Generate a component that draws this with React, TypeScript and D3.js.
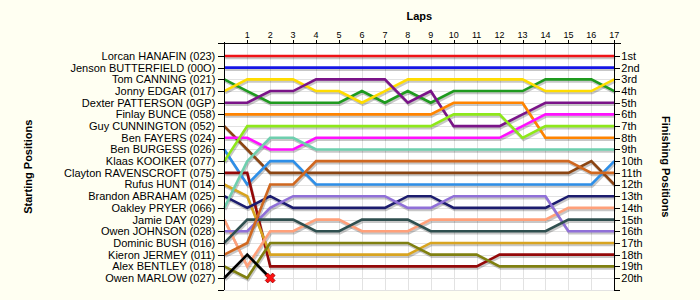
import React from "react";
import * as d3 from "d3";

const drivers = [
  "Lorcan HANAFIN (023)",
  "Jenson BUTTERFIELD (00O)",
  "Tom CANNING (021)",
  "Jonny EDGAR (017)",
  "Dexter PATTERSON (0GP)",
  "Finlay BUNCE (058)",
  "Guy CUNNINGTON (052)",
  "Ben FAYERS (024)",
  "Ben BURGESS (026)",
  "Klaas KOOIKER (077)",
  "Clayton RAVENSCROFT (075)",
  "Rufus HUNT (014)",
  "Brandon ABRAHAM (025)",
  "Oakley PRYER (066)",
  "Jamie DAY (029)",
  "Owen JOHNSON (028)",
  "Dominic BUSH (016)",
  "Kieron JERMEY (011)",
  "Alex BENTLEY (018)",
  "Owen MARLOW (027)",
];

const colors = [
  "#f01418", "#1414e6", "#1f9a1f", "#ffdc00", "#7a1488", "#ff8400",
  "#8b4513", "#ff10ff", "#2e8fe8", "#8ee81a", "#940808", "#d8a420",
  "#1c1c6e", "#6ecfae", "#ffa07a", "#9070d8", "#2f4f4f", "#d06820",
  "#808010", "#000000",
];

// positions per lap (lap 0 = start)
const positions: number[][] = [
  [1, 1, 1, 1, 1, 1, 1, 1, 1, 1, 1, 1, 1, 1, 1, 1, 1, 1],
  [2, 2, 2, 2, 2, 2, 2, 2, 2, 2, 2, 2, 2, 2, 2, 2, 2, 2],
  [3, 4, 5, 5, 5, 5, 4, 5, 4, 5, 4, 4, 4, 4, 3, 3, 3, 4],
  [4, 3, 3, 3, 4, 4, 5, 4, 3, 3, 3, 3, 3, 3, 4, 4, 4, 3],
  [5, 5, 4, 4, 3, 3, 3, 3, 5, 4, 7, 7, 7, 6, 5, 5, 5, 5],
  [6, 6, 6, 6, 6, 6, 6, 6, 6, 6, 5, 5, 5, 5, 8, 8, 8, 8],
  [7, 9, 11, 11, 11, 11, 11, 11, 11, 11, 11, 11, 11, 11, 11, 11, 10, 12],
  [8, 8, 9, 9, 8, 8, 8, 8, 8, 8, 8, 8, 8, 7, 6, 6, 6, 6],
  [9, 12, 10, 10, 12, 12, 12, 12, 12, 12, 12, 12, 12, 12, 12, 12, 12, 10],
  [10, 7, 7, 7, 7, 7, 7, 7, 7, 7, 6, 6, 6, 8, 7, 7, 7, 7],
  [11, 11, 19, 19, 19, 19, 19, 19, 19, 19, 19, 19, 18, 18, 18, 18, 18, 18],
  [12, 13, 18, 18, 18, 18, 18, 18, 18, 17, 17, 17, 17, 17, 17, 17, 17, 17],
  [13, 14, 13, 14, 14, 14, 14, 14, 13, 13, 14, 14, 14, 14, 14, 13, 13, 13],
  [14, 10, 8, 8, 9, 9, 9, 9, 9, 9, 9, 9, 9, 9, 9, 9, 9, 9],
  [15, 19, 16, 16, 15, 15, 16, 16, 16, 15, 15, 15, 15, 15, 15, 14, 14, 14],
  [16, 16, 14, 13, 13, 13, 13, 13, 14, 14, 13, 13, 13, 13, 13, 16, 16, 16],
  [17, 15, 15, 15, 16, 16, 15, 15, 15, 16, 16, 16, 16, 16, 16, 15, 15, 15],
  [18, 17, 12, 12, 10, 10, 10, 10, 10, 10, 10, 10, 10, 10, 10, 10, 11, 11],
  [19, 20, 17, 17, 17, 17, 17, 17, 17, 18, 18, 18, 19, 19, 19, 19, 19, 19],
  [20, 18, 20],
];

const retired = [{ driver: 19, lap: 2 }];

const lapTicks = d3.range(1, 18);
const finishLabels = [
  "1st", "2nd", "3rd", "4th", "5th", "6th", "7th", "8th", "9th", "10th",
  "11th", "12th", "13th", "14th", "15th", "16th", "17th", "18th", "19th", "20th",
];

const W = 700, H = 300;
const left = 224.3, right = 614.3, top = 43.5, bottom = 290;
const font = "'Liberation Sans', Arial, sans-serif";

export default function App() {
  const x = d3.scaleLinear().domain([0, 17]).range([left, right]);
  const y = d3.scaleLinear().domain([0, 21]).range([44.3, 289.7]);
  const line = d3
    .line<number>()
    .x((_, i) => x(i))
    .y((d) => y(d));
  const posTicks = d3.range(1, 21);
  const cross = d3.symbol(d3.symbolCross, 60)();

  return (
    <svg width={W} height={H} style={{ position: "absolute", left: 0, top: 0 }}>
      <rect x={0} y={0} width={W} height={H} fill="#fffff2" />
      <rect x={left} y={top} width={right - left} height={bottom - top} fill="#ffffff" />
      {/* grid */}
      <g stroke="#e2e2e2" strokeWidth={1}>
        {posTicks.map((p) => (
          <line key={"h" + p} x1={left} x2={right} y1={Math.round(y(p)) + 0.5} y2={Math.round(y(p)) + 0.5} />
        ))}
        <line x1={left} x2={right} y1={bottom + 0.5} y2={bottom + 0.5} />
        {lapTicks.map((l) => (
          <line key={"v" + l} y1={top} y2={bottom} x1={Math.round(x(l)) + 0.5} x2={Math.round(x(l)) + 0.5} />
        ))}
      </g>
      {/* shadows */}
      <g fill="none" stroke="#000" strokeOpacity={0.22} strokeWidth={2.6}>
        {positions.map((ps, i) => (
          <path key={"s" + i} d={line(ps) || ""} transform="translate(1,2)" />
        ))}
      </g>
      {/* lines */}
      <g fill="none" strokeWidth={2.6}>
        {positions.map((ps, i) => (
          <path key={"l" + i} d={line(ps) || ""} stroke={colors[i]} />
        ))}
      </g>
      {/* retired markers */}
      {retired.map((r, i) => (
        <path
          key={"x" + i}
          d={cross || ""}
          transform={`translate(${x(r.lap)},${y(positions[r.driver][r.lap])}) rotate(45)`}
          fill="#ff1010"
          stroke="#a00000"
          strokeWidth={0.8}
        />
      ))}
      {/* axes */}
      <g stroke="#000" strokeWidth={1} shapeRendering="crispEdges">
        <line x1={left - 6} x2={right + 7} y1={top} y2={top} />
        <line x1={left} x2={left} y1={top - 2} y2={bottom} />
        <line x1={right} x2={right} y1={top - 2} y2={bottom} />
        <line x1={left - 6} x2={left} y1={bottom} y2={bottom} />
        <line x1={right} x2={right + 6} y1={bottom} y2={bottom} />
        {posTicks.map((p) => (
          <g key={"t" + p}>
            <line x1={left - 6} x2={left} y1={Math.round(y(p))} y2={Math.round(y(p))} />
            <line x1={right} x2={right + 6} y1={Math.round(y(p))} y2={Math.round(y(p))} />
          </g>
        ))}
        {lapTicks.map((l) => (
          <line key={"lt" + l} x1={Math.round(x(l))} x2={Math.round(x(l))} y1={top - 4} y2={top} />
        ))}
      </g>
      {/* labels */}
      <g fontFamily={font} fontSize={11} fill="#000">
        {drivers.map((d, i) => (
          <text key={"dl" + i} x={left - 9} y={y(i + 1)} dy="0.36em" textAnchor="end">
            {d}
          </text>
        ))}
        {finishLabels.map((f, i) => (
          <text key={"fl" + i} x={right + 7} y={y(i + 1)} dy="0.36em">
            {f}
          </text>
        ))}
      </g>
      <g fontFamily={font} fontSize={9} fill="#000">
        {lapTicks.map((l) => (
          <text key={"ll" + l} x={x(l)} y={top - 6} textAnchor="middle">
            {l}
          </text>
        ))}
      </g>
      <g fontFamily={font} fontSize={11} fontWeight="bold" fill="#000">
        <text x={(left + right) / 2} y={20} textAnchor="middle">Laps</text>
        <text transform={`translate(32,${(top + bottom) / 2}) rotate(-90)`} textAnchor="middle">
          Starting Positions
        </text>
        <text transform={`translate(662,${(top + bottom) / 2}) rotate(90)`} textAnchor="middle">
          Finishing Positions
        </text>
      </g>
    </svg>
  );
}
